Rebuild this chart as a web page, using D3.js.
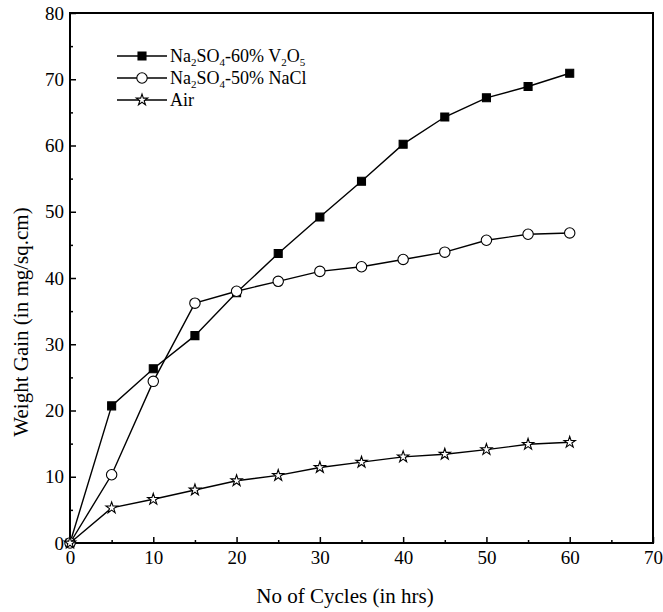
<!DOCTYPE html>
<html>
<head>
<meta charset="utf-8">
<script src="https://cdn.jsdelivr.net/npm/d3@7"></script>
<style>
  body { margin: 0; background: #fff; }
  text { font-family: "Liberation Serif", "Times New Roman", serif; fill: #000; }
</style>
</head>
<body>
<div id="chart"></div>
<script>
// data
var cycles = [0, 5, 10, 15, 20, 25, 30, 35, 40, 45, 50, 55, 60];
var vanadium = [0, 20.7, 26.3, 31.3, 37.8, 43.7, 49.2, 54.6, 60.2, 64.3, 67.2, 68.9, 70.9];
var chloride = [0, 10.3, 24.4, 36.2, 38.0, 39.5, 41.0, 41.7, 42.8, 43.9, 45.7, 46.6, 46.8];
var air = [0, 5.3, 6.6, 8.0, 9.4, 10.2, 11.4, 12.2, 13.0, 13.4, 14.1, 14.9, 15.2];
var xTicks = [0, 10, 20, 30, 40, 50, 60, 70];
var yTicks = [0, 10, 20, 30, 40, 50, 60, 70, 80];

var W = 663, H = 612;
var margin = {top: 13, right: 10, bottom: 69, left: 70};

var svg = d3.select("#chart").append("svg")
    .attr("width", W)
    .attr("height", H);

var x = d3.scaleLinear().domain([0, 70]).range([margin.left, W - margin.right]);
var y = d3.scaleLinear().domain([0, 80]).range([H - margin.bottom, margin.top]);

// minor ticks (inside)
var minorX = d3.range(5, 70, 10), minorY = d3.range(5, 80, 10);

svg.append("g")
    .attr("transform", "translate(0," + y(0) + ")")
    .call(d3.axisBottom(x).tickValues(minorX).tickSize(-3).tickFormat(""))
    .call(g => g.select(".domain").remove());
svg.append("g")
    .attr("transform", "translate(" + x(0) + ",0)")
    .call(d3.axisLeft(y).tickValues(minorY).tickSize(-3).tickFormat(""))
    .call(g => g.select(".domain").remove());

var xAxis = svg.append("g")
    .attr("transform", "translate(0," + y(0) + ")")
    .call(d3.axisBottom(x).tickValues(xTicks).tickSize(-6).tickPadding(8).tickFormat(d3.format("d")));
xAxis.select(".domain").remove();
xAxis.selectAll("text").style("font-size", "19px").attr("font-family", null);

var yAxis = svg.append("g")
    .attr("transform", "translate(" + x(0) + ",0)")
    .call(d3.axisLeft(y).tickValues(yTicks).tickSize(-6).tickPadding(6).tickFormat(d3.format("d")));
yAxis.select(".domain").remove();
yAxis.selectAll("text").style("font-size", "19px").attr("font-family", null);

svg.selectAll(".tick line").attr("stroke", "#000").attr("stroke-width", 1.5);

// frame
svg.append("rect")
    .attr("x", x(0)).attr("y", y(80))
    .attr("width", x(70) - x(0)).attr("height", y(0) - y(80))
    .attr("fill", "none").attr("stroke", "#000").attr("stroke-width", 2);

// axis titles
svg.append("text")
    .attr("x", 345).attr("y", 603)
    .attr("text-anchor", "middle")
    .style("font-size", "21px")
    .text("No of Cycles (in hrs)");
svg.append("text")
    .attr("transform", "translate(28," + 322 + ") rotate(-90)")
    .attr("text-anchor", "middle")
    .style("font-size", "21px")
    .text("Weight Gain (in mg/sq.cm)");

var star = d3.symbol().type(d3.symbolStar).size(40);
var square = d3.symbol().type(d3.symbolSquare).size(64);
var circle = d3.symbol().type(d3.symbolCircle).size(85);

var series = [
  {name: "v", values: vanadium, sym: square, fill: "#000"},
  {name: "c", values: chloride, sym: circle, fill: "#fff"},
  {name: "a", values: air, sym: star, fill: "#fff"}
];

var line = d3.line().x(d => x(d[0])).y(d => y(d[1]));

series.forEach(function(s) {
  var pts = cycles.map((c, i) => [c, s.values[i]]);
  svg.append("path")
      .datum(pts)
      .attr("d", line)
      .attr("fill", "none")
      .attr("stroke", "#000")
      .attr("stroke-width", 1.4);
  svg.selectAll(".m-" + s.name)
      .data(pts)
      .join("path")
      .attr("transform", d => "translate(" + x(d[0]) + "," + y(d[1]) + ")")
      .attr("d", s.sym)
      .attr("fill", s.fill)
      .attr("stroke", "#000")
      .attr("stroke-width", 1.1);
});

// legend
var legendRows = [
  {sym: square, fill: "#000", parts: [["Na", 0], ["2", 1], ["SO", 0], ["4", 1], ["-60% V", 0], ["2", 1], ["O", 0], ["5", 1]]},
  {sym: circle, fill: "#fff", parts: [["Na", 0], ["2", 1], ["SO", 0], ["4", 1], ["-50% NaCl", 0]]},
  {sym: star, fill: "#fff", parts: [["Air", 0]]}
];

var leg = svg.append("g");
legendRows.forEach(function(r, i) {
  var yy = 56 + i * 22;
  leg.append("line")
      .attr("x1", 117).attr("x2", 167).attr("y1", yy).attr("y2", yy)
      .attr("stroke", "#000").attr("stroke-width", 1.4);
  leg.append("path")
      .attr("transform", "translate(142," + yy + ")")
      .attr("d", r.sym)
      .attr("fill", r.fill).attr("stroke", "#000").attr("stroke-width", 1.1);
  var t = leg.append("text")
      .attr("x", 170).attr("y", yy + 6)
      .style("font-size", "18px");
  var prevSub = 0;
  r.parts.forEach(function(p) {
    var dy = p[1] - prevSub;
    t.append("tspan")
        .attr("dy", dy ? (dy * 4) + "px" : null)
        .style("font-size", p[1] ? "11px" : "18px")
        .text(p[0]);
    prevSub = p[1];
  });
});
</script>
</body>
</html>
